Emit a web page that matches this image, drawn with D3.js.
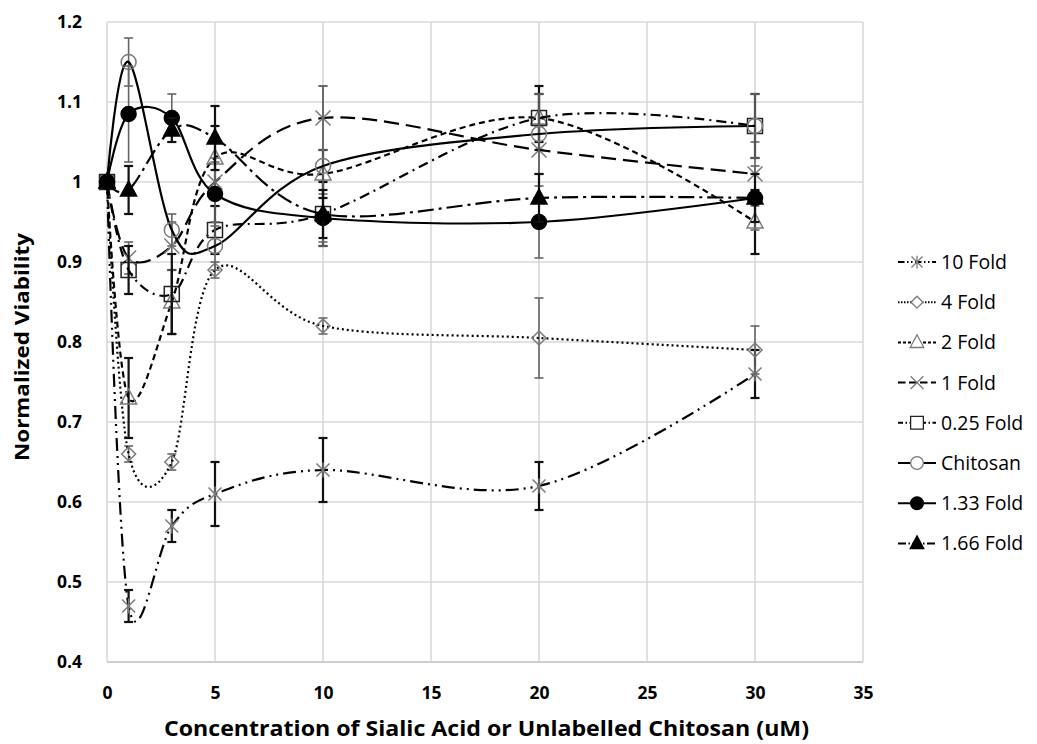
<!DOCTYPE html>
<html>
<head>
<meta charset="utf-8">
<script src="https://cdn.jsdelivr.net/npm/d3@7"></script>
<style>
  body { margin: 0; background: #fff; }
  text { font-family: "Open Sans", "Noto Sans", sans-serif; }
</style>
</head>
<body>
<svg id="chart" width="1037" height="744"></svg>
<script>
// Concentrations (uM) shared by every series
const concentrations = [0, 1, 3, 5, 10, 20, 30];

// Normalized viability per series, with +/- error
const fold10     = [1, 0.47, 0.57, 0.61, 0.64, 0.62, 0.76];
const fold10Err  = [0, 0.02, 0.02, 0.04, 0.04, 0.03, 0.03];
const fold4      = [1, 0.66, 0.65, 0.89, 0.82, 0.805, 0.79];
const fold4Err   = [0, 0.01, 0.01, 0.01, 0.01, 0.05, 0.03];
const fold2      = [1, 0.73, 0.85, 1.03, 1.01, 1.08, 0.95];
const fold2Err   = [0, 0.05, 0.04, 0.04, 0.03, 0.03, 0.04];
const fold1      = [1, 0.905, 0.92, 1.0, 1.08, 1.04, 1.01];
const fold1Err   = [0, 0.02, 0.03, 0.03, 0.04, 0.03, 0.04];
const fold025    = [1, 0.89, 0.86, 0.94, 0.96, 1.08, 1.07];
const fold025Err = [0, 0.03, 0.05, 0.03, 0.04, 0.04, 0.04];
const chitosan    = [1, 1.15, 0.94, 0.92, 1.02, 1.06, 1.07];
const chitosanErr = [0, 0.03, 0.02, 0.03, 0.10, 0.05, 0.04];
const fold133    = [1, 1.085, 1.08, 0.985, 0.955, 0.95, 0.98];
const fold133Err = [0, 0.06, 0.03, 0.04, 0.03, 0.045, 0.04];
const fold166    = [1, 0.99, 1.065, 1.055, 0.96, 0.98, 0.98];
const fold166Err = [0, 0.03, 0.015, 0.04, 0.03, 0.03, 0.03];

const seriesNames = ["10 Fold", "4 Fold", "2 Fold", "1 Fold", "0.25 Fold", "Chitosan", "1.33 Fold", "1.66 Fold"];

const xTicks = [0, 5, 10, 15, 20, 25, 30, 35];
const yTicks = [0.4, 0.5, 0.6, 0.7, 0.8, 0.9, 1.0, 1.1, 1.2];

const xTitle = "Concentration of Sialic Acid or Unlabelled Chitosan (uM)";
const yTitle = "Normalized Viability";

// Drawing styles for each series
const styles = [
  { values: fold10,   err: fold10Err,   dash: "13,5,2,5,2,5", marker: "asterisk", fill: "none", stroke: "#7a7a7a", errColor: "#111" },
  { values: fold4,    err: fold4Err,    dash: "2,3",          marker: "diamond",  fill: "none", stroke: "#7a7a7a", errColor: "#666" },
  { values: fold2,    err: fold2Err,    dash: "6,4",          marker: "triangle", fill: "none", stroke: "#7a7a7a", errColor: "#111" },
  { values: fold1,    err: fold1Err,    dash: "15,7",         marker: "cross",    fill: "none", stroke: "#7a7a7a", errColor: "#666" },
  { values: fold025,  err: fold025Err,  dash: "10,5,2,5",     marker: "square",   fill: "none", stroke: "#222",    errColor: "#111" },
  { values: chitosan, err: chitosanErr, dash: null,           marker: "circle",   fill: "none", stroke: "#7a7a7a", errColor: "#666" },
  { values: fold133,  err: fold133Err,  dash: null,           marker: "circle",   fill: "#000", stroke: "#000",    errColor: "#666" },
  { values: fold166,  err: fold166Err,  dash: "16,5,3,5",     marker: "triangle", fill: "#000", stroke: "#000",    errColor: "#111" }
];

const svg = d3.select("#chart");
const margin = { left: 107, right: 863, top: 22, bottom: 662 };

const x = d3.scaleLinear().domain([0, 35]).range([margin.left, margin.right]);
const y = d3.scaleLinear().domain([0.4, 1.2]).range([margin.bottom, margin.top]);

// Gridlines
const grid = svg.append("g");
grid.selectAll("line.h").data(yTicks).join("line")
  .attr("x1", x(0)).attr("x2", x(35))
  .attr("y1", d => y(d)).attr("y2", d => y(d))
  .attr("stroke", d => d === 0.4 ? "#bdbdbd" : "#d9d9d9").attr("stroke-width", 1.6);
grid.selectAll("line.v").data(xTicks).join("line")
  .attr("y1", y(0.4)).attr("y2", y(1.2))
  .attr("x1", d => x(d)).attr("x2", d => x(d))
  .attr("stroke", "#d9d9d9").attr("stroke-width", 1.6);

// Axes (labels only)
const xAxis = svg.append("g").attr("transform", `translate(0,${y(0.4) + 18})`)
  .call(d3.axisBottom(x).tickValues(xTicks).tickSize(0).tickFormat(d3.format("d")));
const yAxis = svg.append("g").attr("transform", `translate(${x(0) - 22},0)`)
  .call(d3.axisLeft(y).tickValues(yTicks).tickSize(0).tickFormat(d => String(+d.toFixed(1))));
[xAxis, yAxis].forEach(a => {
  a.select(".domain").remove();
  a.selectAll("text").attr("font-size", 17.5).attr("font-weight", "bold").attr("fill", "#000")
    .attr("font-family", "'Open Sans', sans-serif");
});
xAxis.selectAll("text").attr("dy", "0.9em");

// Axis titles
svg.append("text").attr("x", (163 + 810) / 2).attr("y", 736)
  .attr("text-anchor", "middle").attr("font-size", 22).attr("font-weight", "bold")
  .attr("textLength", 645).attr("lengthAdjust", "spacingAndGlyphs")
  .text(xTitle);
svg.append("text").attr("transform", `translate(29,${347}) rotate(-90)`)
  .attr("text-anchor", "middle").attr("font-size", 20).attr("font-weight", "bold")
  .attr("textLength", 228).attr("lengthAdjust", "spacingAndGlyphs")
  .text(yTitle);

// Marker shapes
function markerPath(kind) {
  switch (kind) {
    case "asterisk": { const s = 6.5; return `M${-s},${-s}L${s},${s}M${-s},${s}L${s},${-s}M0,${-s - 1}L0,${s + 1}`; }
    case "cross":    { const s = 7.5; return `M${-s},${-s}L${s},${s}M${-s},${s}L${s},${-s}`; }
    case "diamond":  { const s = 7;   return `M0,${-s}L${s},0L0,${s}L${-s},0Z`; }
    case "triangle": { const s = 8;   return `M0,${-s - 1}L${s},${s * 0.75}L${-s},${s * 0.75}Z`; }
    case "square":   { const s = 7.5; return `M${-s},${-s}H${s}V${s}H${-s}Z`; }
    case "circle":   { const r = 7.5; return d3.arc()({ innerRadius: 0, outerRadius: r, startAngle: 0, endAngle: 2 * Math.PI }); }
  }
}

const line = d3.line().x(d => x(d[0])).y(d => y(d[1])).curve(d3.curveCardinal.tension(0));

const plot = svg.append("g");

styles.forEach((st, i) => {
  const pts = concentrations.map((c, k) => [c, st.values[k], st.err[k]]);
  const g = plot.append("g").attr("class", "series").attr("data-name", seriesNames[i]);

  // error bars
  const eb = g.selectAll("g.err").data(pts.filter(p => p[2] > 0)).join("g");
  const w = st.errColor === "#111" ? 2.2 : 1.6;
  eb.append("line").attr("x1", d => x(d[0])).attr("x2", d => x(d[0]))
    .attr("y1", d => y(d[1] - d[2])).attr("y2", d => y(d[1] + d[2]))
    .attr("stroke", st.errColor).attr("stroke-width", w);
  [-1, 1].forEach(sg => {
    eb.append("line").attr("x1", d => x(d[0]) - 4.5).attr("x2", d => x(d[0]) + 4.5)
      .attr("y1", d => y(d[1] + sg * d[2])).attr("y2", d => y(d[1] + sg * d[2]))
      .attr("stroke", st.errColor).attr("stroke-width", w);
  });

  // smoothed line
  g.append("path").attr("d", line(pts)).attr("fill", "none")
    .attr("stroke", "#000").attr("stroke-width", 2.2)
    .attr("stroke-dasharray", st.dash);

  // markers
  g.selectAll("path.mk").data(pts).join("path").attr("class", "mk")
    .attr("d", markerPath(st.marker))
    .attr("transform", d => `translate(${x(d[0])},${y(d[1])})`)
    .attr("fill", st.fill).attr("stroke", st.stroke).attr("stroke-width", 1.5);
});

// Legend
const legend = svg.append("g");
seriesNames.forEach((name, i) => {
  const st = styles[i];
  const ly = 262 + i * 40.2;
  const item = legend.append("g").attr("transform", `translate(898,${ly})`);
  item.append("line").attr("x1", 0).attr("x2", 38).attr("y1", 0).attr("y2", 0)
    .attr("stroke", "#000").attr("stroke-width", 2)
    .attr("stroke-dasharray", st.dash ? st.dash.split(",").map(v => Math.max(1.5, v * 0.5)).join(",") : null);
  item.append("path").attr("d", markerPath(st.marker))
    .attr("transform", "translate(19,0) scale(0.85)")
    .attr("fill", st.fill === "none" ? "#fff" : st.fill).attr("stroke", st.stroke).attr("stroke-width", 1.5);
  item.append("text").attr("x", 43).attr("y", 0).attr("dy", "0.36em")
    .attr("font-size", 19.5).attr("fill", "#000").text(name);
});
</script>
</body>
</html>
